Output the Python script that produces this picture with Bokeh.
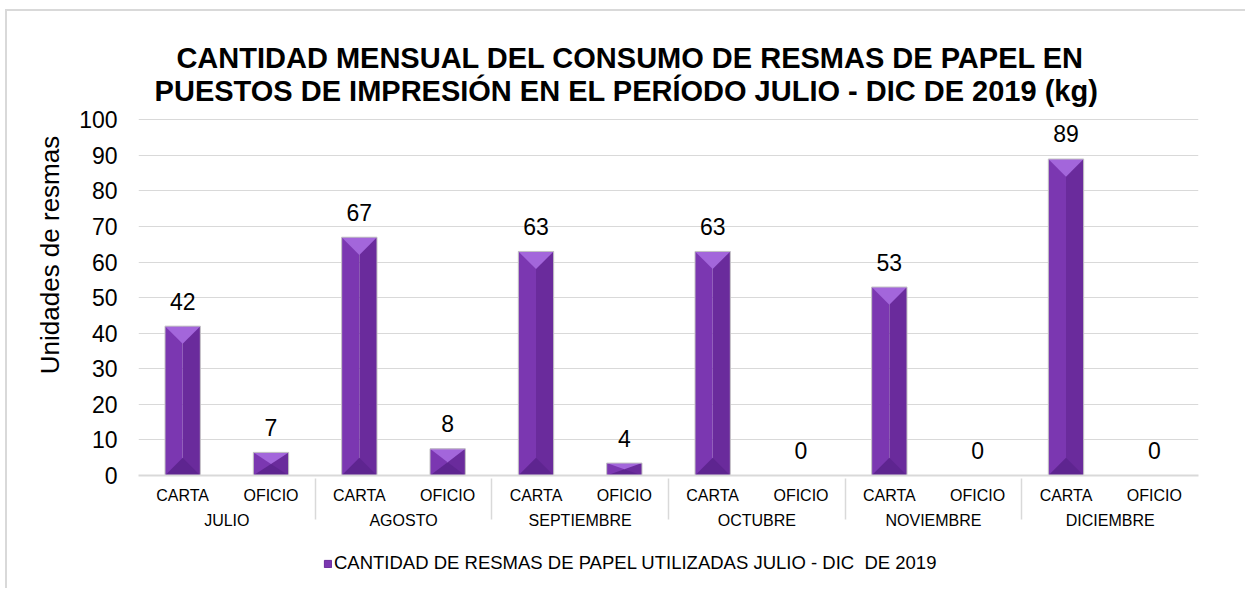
import math
from bokeh.plotting import figure
from bokeh.layouts import column
from bokeh.models import (FactorRange, Range1d, FixedTicker, ColumnDataSource,
                          Legend, LegendItem)
from bokeh.transform import dodge
from bokeh.core.properties import value
from bokeh.embed import file_html
from bokeh.resources import INLINE

# ---------------- data ----------------
months = ["JULIO", "AGOSTO", "SEPTIEMBRE", "OCTUBRE", "NOVIEMBRE", "DICIEMBRE"]
paper_types = ["CARTA", "OFICIO"]
carta = [42, 67, 63, 63, 53, 89]
oficio = [6.5, 7.5, 3.5, 0, 0, 0]
title_line1 = "CANTIDAD MENSUAL DEL CONSUMO DE RESMAS DE PAPEL EN"
title_line2 = "PUESTOS DE IMPRESIÓN EN EL PERÍODO JULIO - DIC  DE 2019 (kg)"
y_label = "Unidades de resmas"
series_name = "CANTIDAD DE RESMAS DE PAPEL UTILIZADAS JULIO - DIC  DE 2019"
y_min, y_max, y_step = 0, 100, 10
y_ticks = list(range(y_min, y_max + 1, y_step))

# ---------------- layout / style ----------------
FONT = "Liberation Sans"
W, H = 1240, 539
ML, MR, MT, MB = 131, 49, 23, 75
FRAME_W = W - ML - MR
FRAME_H = H - MT - MB
Y_TOP = 124          # extra headroom above 100 holds the title
PXU = FRAME_H / (Y_TOP - y_min)
BAR_W = 0.4
C_LEFT = "#7B37B1"
C_RIGHT = "#6A2B9C"
C_TOP = "#A366DB"
C_BOTTOM = "#5E2590"
C_EDGE = "#C4C4C4"
GRID = "#D9D9D9"
BORDER = "2px solid #D9D9D9"

factors = [(m, t) for m in months for t in paper_types]
vals = []
for c, o in zip(carta, oficio):
    vals += [c, o]
labels = [str(int(math.floor(v + 0.5))) for v in vals]

src = ColumnDataSource(dict(x=factors, top=vals, label=labels))

p = figure(x_range=FactorRange(*factors, factor_padding=0, subgroup_padding=0,
                               group_padding=0, range_padding=0),
           y_range=Range1d(y_min, Y_TOP),
           width=W, height=H, output_backend="svg", toolbar_location=None,
           min_border_left=ML, min_border_right=MR, min_border_top=MT, min_border_bottom=MB,
           margin=(9, 0, 0, 5),
           styles={"border-left": BORDER, "border-top": BORDER})
p.outline_line_color = None
p.background_fill_color = "white"
p.border_fill_color = "white"

# bars: left / right halves (side bevels)
p.vbar(x=dodge("x", -BAR_W / 4, range=p.x_range), top="top", width=BAR_W / 2,
       source=src, fill_color=C_LEFT, line_color=None)
p.vbar(x=dodge("x", BAR_W / 4, range=p.x_range), top="top", width=BAR_W / 2,
       source=src, fill_color=C_RIGHT, line_color=None)

# top / bottom bevel triangles
half_px = BAR_W / 2 * FRAME_W / len(factors)
depth_units = half_px / PXU
for (m, t), v in zip(factors, vals):
    if v <= 0:
        continue
    d = min(depth_units, v / 2)
    xs = [(m, t, -BAR_W / 2), (m, t, BAR_W / 2), (m, t, 0.0)]
    p.patch(x=xs, y=[v, v, v - d], fill_color=C_TOP, line_color=None)
    p.patch(x=xs, y=[0, 0, d], fill_color=C_BOTTOM, line_color=None)

# thin outline
p.vbar(x="x", top="top", width=BAR_W, source=src, fill_color=None,
       line_color=C_EDGE, line_width=1)

# value labels
p.text(x="x", y="top", text="label", source=src, text_align="center",
       text_baseline="alphabetic", y_offset=-25, text_font=value(FONT),
       text_font_size="23px", text_color="#000000")

# title (two centred lines, drawn in the headroom above 100)
title_x = (months[2], paper_types[1], 0.07)
title_base_px = [418, 385]   # baselines, px above the x axis
p.text(x=[title_x, title_x], y=[b / PXU for b in title_base_px],
       text=[title_line1, title_line2], text_align="center", text_baseline="alphabetic",
       text_font=value(FONT), text_font_size="29px", text_font_style="bold",
       text_color="#000000")

# axes
p.yaxis.ticker = FixedTicker(ticks=y_ticks)
p.yaxis.axis_line_color = None
p.yaxis.major_tick_line_color = None
p.yaxis.minor_tick_line_color = None
p.yaxis.major_label_standoff = 15
p.yaxis.major_label_text_font = FONT
p.yaxis.major_label_text_font_size = "23px"
p.yaxis.major_label_text_color = "#000000"
p.yaxis.axis_label = y_label
p.yaxis.axis_label_text_font = FONT
p.yaxis.axis_label_text_font_size = "26px"
p.yaxis.axis_label_text_font_style = "normal"
p.yaxis.axis_label_text_color = "#000000"
p.yaxis.axis_label_standoff = 11

p.xaxis.axis_line_color = GRID
p.xaxis.axis_line_width = 2
p.xaxis.major_tick_line_color = None
p.xaxis.minor_tick_line_color = None
p.xaxis.major_label_standoff = 5
p.xaxis.major_label_text_font = FONT
p.xaxis.major_label_text_font_size = "16px"
p.xaxis.major_label_text_color = "#000000"
p.xaxis.group_text_font = FONT
p.xaxis.group_text_font_size = "16px"
p.xaxis.group_text_font_style = "normal"
p.xaxis.group_text_color = "#000000"
p.xaxis.separator_line_color = GRID
p.xaxis.separator_line_width = 1.5

p.xgrid.grid_line_color = None
p.ygrid.grid_line_color = GRID
p.ygrid.grid_line_width = 1

# ---------------- legend strip (second small figure) ----------------
LH = 40
lg = figure(width=W, height=LH, output_backend="svg", toolbar_location=None,
            x_range=Range1d(0, 1), y_range=Range1d(0, 1),
            x_axis_type=None, y_axis_type=None,
            min_border=0, margin=(0, 0, 0, 5), styles={"border-left": BORDER})
lg.outline_line_color = None
lg.xgrid.visible = False
lg.ygrid.visible = False
# zero-height bar: only supplies the legend swatch, draws nothing itself
swatch_src = ColumnDataSource(dict(x=[0.0], top=[0.0]))
swatch = lg.vbar(x="x", top="top", width=0.01, source=swatch_src,
                 fill_color=C_LEFT, line_color=C_RIGHT)
legend = Legend(items=[LegendItem(label=series_name, renderers=[swatch])],
                location=(185, 14), orientation="horizontal",
                label_text_font=FONT, label_text_font_size="18.5px",
                label_text_color="#000000", glyph_width=9, glyph_height=9,
                label_standoff=2, padding=2, margin=0, spacing=0,
                border_line_color=None, background_fill_alpha=0)
lg.add_layout(legend, "center")

layout = column(p, lg, spacing=0)
open("out.html", "w").write(file_html(layout, INLINE))
